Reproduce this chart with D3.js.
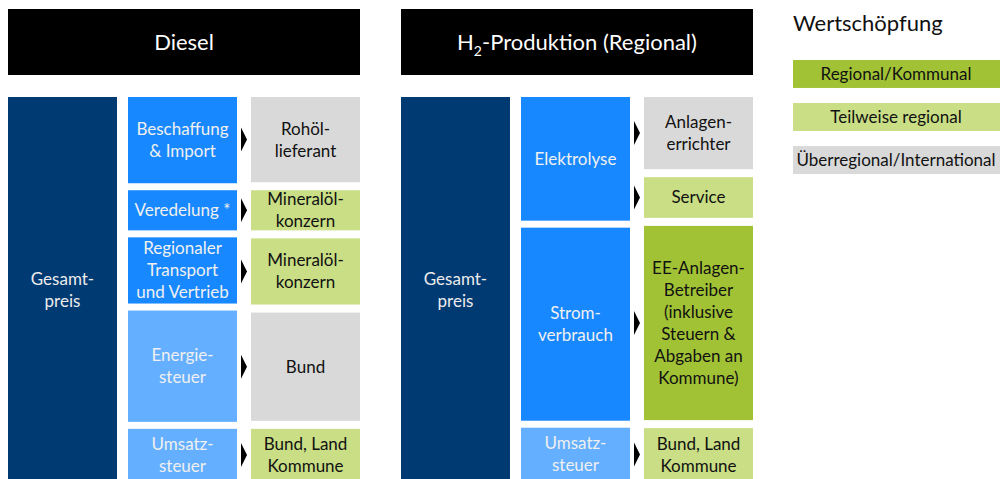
<!DOCTYPE html>
<meta charset="utf-8">
<script src="https://d3js.org/d3.v7.min.js"></script>
<style>
  body { margin: 0; background: #fff; font-family: Lato, sans-serif; }
</style>
<div id="chart"></div>
<script>
// panels and their value chains
var panelTitles = ["Diesel", "H2-Produktion (Regional)"];
var totalLabel = "Gesamt-\npreis";

var dieselSteps = ["Beschaffung\n& Import", "Veredelung *", "Regionaler\nTransport\nund Vertrieb", "Energie-\nsteuer", "Umsatz-\nsteuer"];
var dieselStepShares = [86, 40, 66, 111, 52];
var dieselStepTax = [false, false, false, true, true];
var dieselRecipients = ["Rohöl-\nlieferant", "Mineralöl-\nkonzern", "Mineralöl-\nkonzern", "Bund", "Bund, Land\nKommune"];
var dieselRecipientShares = [85, 40, 66, 108, 52];
var dieselRecipientLevel = [2, 1, 1, 2, 1];

var h2Steps = ["Elektrolyse", "Strom-\nverbrauch", "Umsatz-\nsteuer"];
var h2StepShares = [123, 192, 53];
var h2StepTax = [false, false, true];
var h2Recipients = ["Anlagen-\nerrichter", "Service", "EE-Anlagen-\nBetreiber\n(inklusive\nSteuern &\nAbgaben an\nKommune)", "Bund, Land\nKommune"];
var h2RecipientShares = [71, 40, 191, 52];
var h2RecipientLevel = [2, 1, 0, 1];

// legend: 0 = regional, 1 = partly regional, 2 = supra-regional
var legendTitle = "Wertschöpfung";
var legendLabels = ["Regional/Kommunal", "Teilweise regional", "Überregional/International"];
var levelColors = ["#a2c236", "#c9de85", "#d9d9d9"];

var W = 1003, H = 479;
var svg = d3.select("#chart").append("svg")
  .attr("width", W).attr("height", H);

var panelX = d3.scaleBand().domain([0, 1]).range([8, 753]).paddingInner(0.1043);
var colX = d3.scaleBand().domain(["total", "step", "recipient"])
  .range([0, panelX.bandwidth()]).paddingInner(0.103).align(0);

var boxTop = 97, boxBottom = 481;

function stack(shares, gap) {
  var n = shares.length;
  var y = d3.scaleLinear().domain([0, d3.sum(shares)]).range([0, boxBottom - boxTop - gap * (n - 1)]);
  var acc = 0;
  return shares.map(function(s, i) {
    var y0 = boxTop + y(acc) + gap * i;
    acc += s;
    return {y0: y0, y1: boxTop + y(acc) + gap * i};
  });
}

function label(g, text, cx, cy, color, size) {
  var lines = text.split("\n");
  var t = g.append("text")
    .attr("text-anchor", "middle")
    .attr("fill", color)
    .style("font-size", size + "px");
  lines.forEach(function(l, i) {
    t.append("tspan")
      .attr("x", cx)
      .attr("y", cy + (i - (lines.length - 1) / 2) * 22)
      .attr("dy", "0.35em")
      .text(l);
  });
}

function drawPanel(i, steps, stepShares, stepTax, recipients, recipientShares, recipientLevel) {
  var x0 = panelX(i);
  var g = svg.append("g");

  // header
  g.append("rect").attr("x", x0).attr("y", 9)
    .attr("width", panelX.bandwidth()).attr("height", 66).attr("fill", "#000");
  var ht = g.append("text").attr("x", x0 + panelX.bandwidth() / 2).attr("y", 42)
    .attr("dy", "0.35em").attr("text-anchor", "middle")
    .attr("fill", "#fff").style("font-size", "22px");
  if (panelTitles[i].indexOf("H2") === 0) {
    ht.append("tspan").text("H");
    ht.append("tspan").attr("dy", "6").style("font-size", "14px").text("2");
    ht.append("tspan").attr("dy", "-6").text(panelTitles[i].slice(2));
  } else {
    ht.text(panelTitles[i]);
  }

  // total price
  var tx = x0 + colX("total");
  g.append("rect").attr("x", tx).attr("y", boxTop)
    .attr("width", colX.bandwidth()).attr("height", boxBottom - boxTop).attr("fill", "#003a72");
  label(g, totalLabel, tx + colX.bandwidth() / 2, 290, "#ececec", 17);

  // steps
  var sx = x0 + colX("step") - 1.5;
  stack(stepShares, 7).forEach(function(d, j) {
    g.append("rect").attr("x", sx).attr("y", d.y0)
      .attr("width", colX.bandwidth()).attr("height", d.y1 - d.y0)
      .attr("fill", stepTax[j] ? "#64afff" : "#1788ff");
    label(g, steps[j], sx + colX.bandwidth() / 2, (d.y0 + d.y1) / 2, "#f0f0f0", 17);
  });

  // recipients and arrows
  var rx = x0 + colX("recipient");
  var ax = sx + colX.bandwidth() + 4;
  stack(recipientShares, 8).forEach(function(d, j) {
    var cy = (d.y0 + d.y1) / 2;
    g.append("rect").attr("x", rx).attr("y", d.y0)
      .attr("width", colX.bandwidth()).attr("height", d.y1 - d.y0)
      .attr("fill", levelColors[recipientLevel[j]]);
    label(g, recipients[j], rx + colX.bandwidth() / 2, cy, "#111", 17);
    g.append("path")
      .attr("d", "M" + ax + "," + (cy - 12) + "L" + (ax + 6) + "," + cy + "L" + ax + "," + (cy + 12) + "Z")
      .attr("fill", "#000");
  });
}

drawPanel(0, dieselSteps, dieselStepShares, dieselStepTax, dieselRecipients, dieselRecipientShares, dieselRecipientLevel);
drawPanel(1, h2Steps, h2StepShares, h2StepTax, h2Recipients, h2RecipientShares, h2RecipientLevel);

// legend
var lg = svg.append("g");
lg.append("text").attr("x", 793).attr("y", 31)
  .attr("fill", "#111").style("font-size", "22px").text(legendTitle);
var ly = d3.scaleBand().domain(legendLabels).range([60, 174]).paddingInner(0.35);
legendLabels.forEach(function(l, i) {
  lg.append("rect").attr("x", 793).attr("y", ly(l))
    .attr("width", 207).attr("height", ly.bandwidth()).attr("fill", levelColors[i]);
  lg.append("text").attr("x", 896).attr("y", ly(l) + ly.bandwidth() / 2)
    .attr("dy", "0.35em").attr("text-anchor", "middle")
    .attr("fill", "#111").style("font-size", "17px").text(l);
});
</script>
